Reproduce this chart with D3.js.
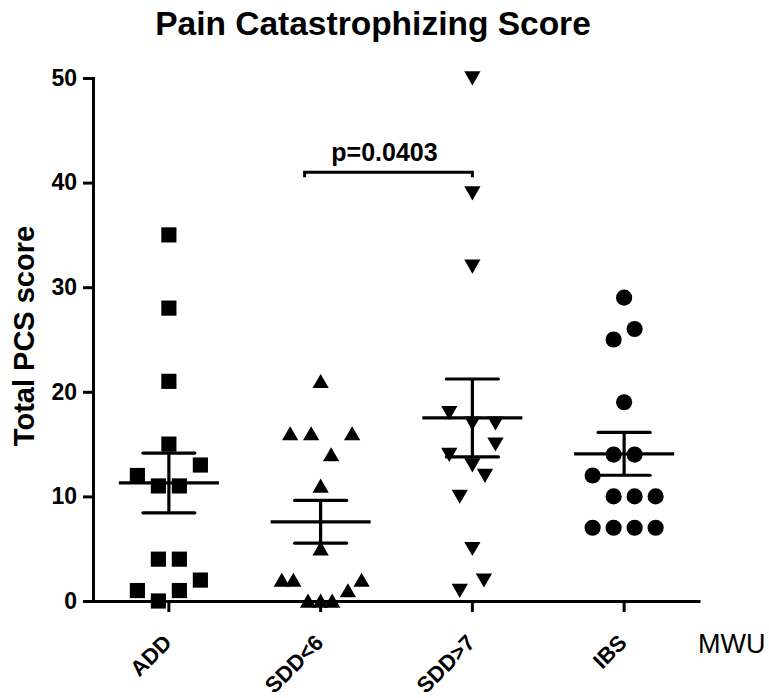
<!DOCTYPE html>
<html><head><meta charset="utf-8">
<script src="https://cdn.jsdelivr.net/npm/d3@7"></script>
<style>body{margin:0;background:#fff} svg{display:block}</style>
</head><body>
<svg id="chart" width="769" height="698"></svg>
<script>
// ---- data ----
const categories = ["ADD", "SDD<6", "SDD>7", "IBS"];
const addValues  = [35, 28, 21, 15, 13, 12, 11, 11, 4, 4, 2, 1, 1, 0];
const addJitter  = [0, 0, 0, 0, 3, -3, -1, 1, -1, 1, 3, -3, 1, -1];
const sdd6Values = [21, 16, 16, 16, 14, 11, 5, 2, 2, 2, 1, 0, 0, 0];
const sdd6Jitter = [0, -2.9, -0.9, 3, 1, 0, 0, -3.7, -2.6, 3.9, 2.6, -1.2, 0, 1.1];
const sdd7Values = [50, 39, 32, 18, 17, 17, 15, 14, 13, 12, 10, 5, 2, 1];
const sdd7Jitter = [0, 0, 0, -2.2, 0, 2.2, 2.2, -2.2, 0, 1.2, -1.2, 0, 1.1, -1.2];
const ibsValues  = [29, 26, 25, 19, 14, 14, 12, 10, 10, 10, 7, 7, 7, 7];
const ibsJitter  = [0, 1, -1, 0, -1, 1, -3, -1, 1, 3, -3, -1, 1, 3];
const yTicks = [0, 10, 20, 30, 40, 50];
const comparisonFrom = "SDD<6";
const comparisonTo = "SDD>7";
const comparisonValue = 41;
const comparisonLabel = "p=0.0403";
const titleText = "Pain Catastrophizing Score";
const yTitle = "Total PCS score";
const testLabel = "MWU";

const groups = [
  {name: categories[0], values: addValues,  jitter: addJitter,  shape: "square"},
  {name: categories[1], values: sdd6Values, jitter: sdd6Jitter, shape: "up"},
  {name: categories[2], values: sdd7Values, jitter: sdd7Jitter, shape: "down"},
  {name: categories[3], values: ibsValues,  jitter: ibsJitter,  shape: "circle"}
];

// ---- drawing ----
const FONT = "'Liberation Sans', Arial, Helvetica, sans-serif";
const svg = d3.select("#chart");
const x = d3.scaleBand().domain(categories).range([93, 700]).padding(0);
const cx = c => x(c) + x.bandwidth() / 2;
const y = d3.scaleLinear().domain([0, 50]).range([601, 78]);
const jx = d3.scaleLinear().domain([-1, 1]).range([-10.5, 10.5]);

// title
svg.append("text").attr("x", 373).attr("y", 35).attr("text-anchor", "middle")
  .attr("font-family", FONT).attr("font-weight", "bold").attr("font-size", 33.5)
  .text(titleText);

// y axis
const gy = svg.append("g").attr("transform", "translate(93,0)")
  .call(d3.axisLeft(y).tickValues(yTicks).tickSize(10).tickSizeOuter(0).tickPadding(6));
gy.select(".domain").attr("stroke-width", 3).attr("stroke-linecap", "square");
gy.selectAll(".tick line").attr("stroke-width", 3);
gy.selectAll(".tick text").attr("font-family", FONT).attr("font-weight", "bold")
  .attr("font-size", 23).attr("fill", "#000");

// x axis
const gx = svg.append("g").attr("transform", "translate(0,601)")
  .call(d3.axisBottom(x).tickSize(11).tickSizeOuter(0));
gx.select(".domain").attr("stroke-width", 3);
gx.selectAll(".tick line").attr("stroke-width", 3);
gx.selectAll(".tick text")
  .attr("font-family", FONT).attr("font-weight", "bold").attr("font-size", 22)
  .attr("fill", "#000").attr("text-anchor", "end")
  .attr("x", 0).attr("y", 0).attr("dy", null)
  .attr("transform", "translate(4,43) rotate(-45)");

// y title
svg.append("text").attr("transform", "translate(34,336) rotate(-90)")
  .attr("text-anchor", "middle").attr("font-family", FONT).attr("font-weight", "bold")
  .attr("font-size", 29).text(yTitle);

// MWU label
svg.append("text").attr("x", 698).attr("y", 653).attr("font-family", FONT)
  .attr("font-size", 27).text(testLabel);

// points
const symSquare = d3.symbol().type(d3.symbolSquare).size(230);
const symTri = d3.symbol().type(d3.symbolTriangle).size(115);
const symCircle = d3.symbol().type(d3.symbolCircle).size(205);

groups.forEach(g => {
  const c = cx(g.name);
  const gg = svg.append("g");
  gg.selectAll("path").data(g.values).join("path")
    .attr("d", g.shape === "square" ? symSquare() : g.shape === "circle" ? symCircle() : symTri())
    .attr("transform", (v, i) => {
      const px = c + jx(g.jitter[i]);
      if (g.shape === "up") return `translate(${px},${y(v) + 2})`;
      if (g.shape === "down") return `translate(${px},${y(v) - 2}) rotate(180)`;
      return `translate(${px},${y(v)})`;
    })
    .attr("fill", "#000");

  // mean and SEM
  const m = d3.mean(g.values);
  const sem = d3.deviation(g.values) / Math.sqrt(g.values.length);
  const lg = svg.append("g").attr("stroke", "#000").attr("stroke-width", 3.2).attr("fill", "none");
  lg.append("line").attr("x1", c - 50).attr("x2", c + 50).attr("y1", y(m)).attr("y2", y(m));
  lg.append("line").attr("x1", c).attr("x2", c).attr("y1", y(m + sem)).attr("y2", y(m - sem));
  lg.append("line").attr("x1", c - 26).attr("x2", c + 26).attr("y1", y(m + sem)).attr("y2", y(m + sem)).attr("stroke-linecap", "round");
  lg.append("line").attr("x1", c - 26).attr("x2", c + 26).attr("y1", y(m - sem)).attr("y2", y(m - sem)).attr("stroke-linecap", "round");
});

// significance bracket
const bx1 = cx(comparisonFrom) - 16, bx2 = cx(comparisonTo);
const by = y(comparisonValue);
svg.append("path")
  .attr("d", `M${bx1},${by + 5} L${bx1},${by} L${bx2},${by} L${bx2},${by + 5}`)
  .attr("fill", "none").attr("stroke", "#000").attr("stroke-width", 3);
svg.append("text").attr("x", (bx1 + bx2) / 2 - 4).attr("y", by - 11)
  .attr("text-anchor", "middle").attr("font-family", FONT).attr("font-weight", "bold")
  .attr("font-size", 25).text(comparisonLabel);
</script>
</body></html>
